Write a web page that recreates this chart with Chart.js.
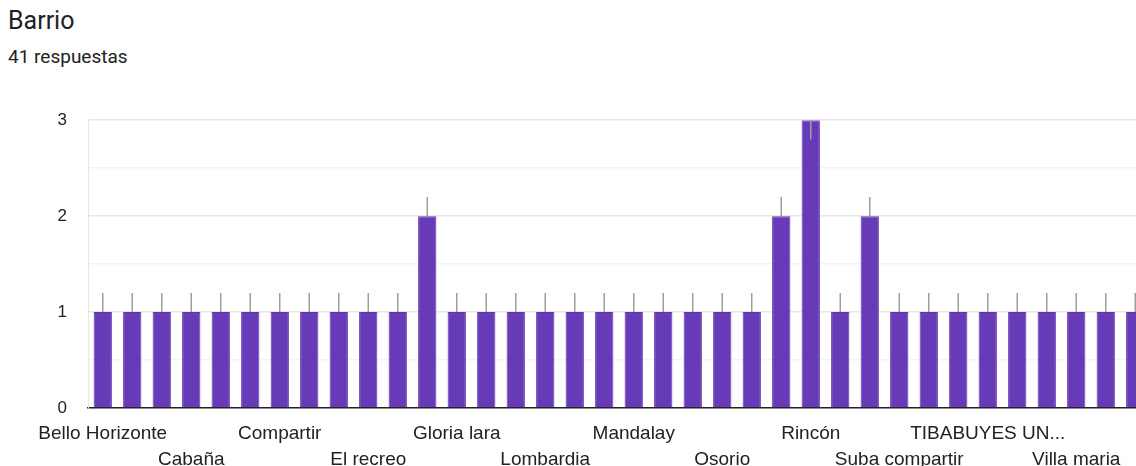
<!DOCTYPE html>
<html>
<head>
<meta charset="utf-8">
<script src="https://cdn.jsdelivr.net/npm/chart.js@4"></script>
<style>
  html, body { margin: 0; padding: 0; background: #fff; overflow: hidden; width: 1136px; height: 466px; }
  #title { position: absolute; left: 8px; top: 6px; font: 25px Roboto, "Noto Sans", sans-serif; color: #202124; }
  #subtitle { position: absolute; left: 8px; top: 45px; font: 19px Roboto, "Noto Sans", sans-serif; color: #202124; }
  #wrap { position: absolute; left: 0; top: 89px; width: 1150px; height: 377px; }
</style>
</head>
<body>
<div id="title">Barrio</div>
<div id="subtitle">41 respuestas</div>
<div id="wrap"><canvas id="chart"></canvas></div>
<script>
// Categories (only every third name is readable in the picture)
const barrios = [
  "Bello Horizonte", "", "", "Cabaña", "", "", "Compartir", "", "", "El recreo", "", "",
  "Gloria lara", "", "", "Lombardia", "", "", "Mandalay", "", "", "Osorio", "", "",
  "Rincón", "", "", "Suba compartir", "", "", "TIBABUYES UN...", "", "", "Villa maria", "", ""
]

const respuestas = [
  1, 1, 1, 1, 1, 1, 1, 1, 1, 1, 1, 2,
  1, 1, 1, 1, 1, 1, 1, 1, 1, 1, 1, 2,
  3, 1, 2, 1, 1, 1, 1, 1, 1, 1, 1, 1
]

const yTicks = [0, 1, 2, 3]

// Small grey whisker above each bar (drawn inside when it would go past the top)
const whiskers = {
  id: "whiskers",
  afterDatasetsDraw(chart) {
    const ctx = chart.ctx
    const y = chart.scales.y
    const meta = chart.getDatasetMeta(0)
    ctx.save()
    ctx.strokeStyle = "#9e9e9e"
    ctx.lineWidth = 1.5
    meta.data.forEach((bar, i) => {
      const v = respuestas[i]
      const end = v + 0.2 > y.max ? v - 0.2 : v + 0.2
      ctx.beginPath()
      ctx.moveTo(bar.x, y.getPixelForValue(v))
      ctx.lineTo(bar.x, y.getPixelForValue(end))
      ctx.stroke()
    })
    ctx.restore()
  },
}

new Chart(document.getElementById("chart"), {
  type: "bar",
  data: {
    labels: barrios,
    datasets: [
      {
        data: respuestas,
        backgroundColor: "#673ab7",
        borderColor: "#5e35b1",
        borderWidth: 1,
        barPercentage: 1,
        categoryPercentage: 0.62,
      },
    ],
  },
  options: {
    responsive: true,
    maintainAspectRatio: false,
    animation: false,
    layout: { padding: { top: 9, right: 0, left: 0, bottom: 0 } },
    plugins: {
      legend: { display: false },
      tooltip: { enabled: false },
    },
    scales: {
      x: {
        grid: { display: false },
        border: { color: "#222", width: 1.5 },
        afterFit: (scale) => { scale.height = 58 },
        ticks: {
          autoSkip: false,
          maxRotation: 0,
          minRotation: 0,
          padding: 5,
          color: "#222",
          font: { family: "'Liberation Sans', Arial, sans-serif", size: 19, lineHeight: 1.37 },
          callback: function (value, index) {
            if (index % 3 !== 0) return ""
            const name = this.getLabelForValue(value)
            return index % 6 === 0 ? name : ["", name]
          },
        },
      },
      y: {
        min: 0,
        max: 3,
        border: { color: "#e6e6e6" },
        afterFit: (scale) => { scale.width = 88 },
        grid: {
          color: (c) => (Number.isInteger(c.tick.value) ? "#e8e8e8" : "#f4f4f4"),
          lineWidth: 1.5,
          drawTicks: false,
        },
        ticks: {
          stepSize: 0.5,
          padding: 21,
          color: "#222",
          font: { family: "'Liberation Sans', Arial, sans-serif", size: 17 },
          callback: (value) => (yTicks.includes(value) ? value : ""),
        },
      },
    },
  },
  plugins: [whiskers],
})
</script>
</body>
</html>
